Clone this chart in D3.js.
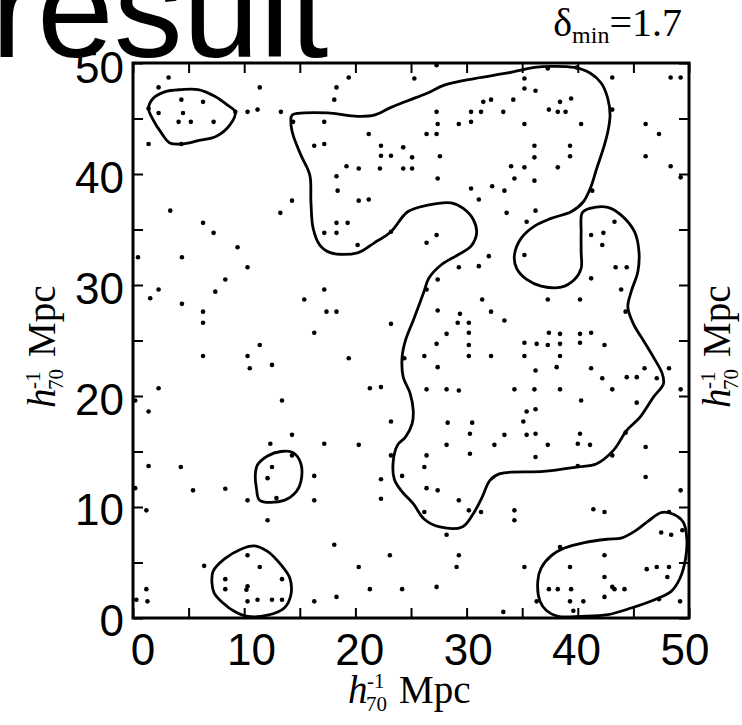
<!DOCTYPE html>
<html lang="en">
    <head>
        <meta charset="utf-8">
        <title>Cluster map - delta min 1.7</title>
        <script src="https://d3js.org/d3.v7.min.js"></script>
        <style>
            body {
                margin: 0;
                background: white;
            }
            .dot {
                fill: black;
            }
            .contour {
                fill: none;
                stroke: black;
                stroke-width: 2.8;
                stroke-linejoin: round;
            }
            .tick line {
                stroke: black;
                stroke-width: 2;
            }
            .num {
                font-family: "Liberation Sans", Arial, sans-serif;
                font-size: 44px;
                fill: black;
            }
            .serif {
                font-family: "Liberation Serif", "Times New Roman", serif;
                fill: black;
            }
        </style>
    </head>
    <body>
        <script type="text/javascript">

            // galaxy positions (h70^-1 Mpc), split by quadrant of the map
            var pointsNW = [[3.2,48.7],[2.3,47.8],[11.4,47.8],[18.3,47.8],[19.4,48.7],[4.35,46.7],[6.3,46.5],[18.1,46.7],
                [1.4,45.9],[2.3,45.5],[4.5,45.5],[9.2,45.6],[10.3,45.6],[11.2,45.8],[13.3,45.6],[4.1,44.7],[5.2,44.7],
                [7.25,44.7],[14.4,44.7],[17.2,44.7],[1.4,42.7],[4.35,42.7],[16.3,42.55],[17.2,42.7],[21.2,43.6],
                [22.3,42.55],[24.3,42.4],[22.3,41.65],[23.2,41.65],[25.1,41.5],[19.2,40.7],[20.3,40.5],[22.2,40.5],
                [24.3,40.5],[25.1,40.5],[18.3,39.8],[18.4,38.5],[20.3,37.6],[21.2,37.7],[14.3,37.6],[3.35,36.7],
                [13.25,36.5],[6.3,35.6],[18.3,35.6],[19.3,35.6],[7.25,34.7],[17.2,34.7],[18.3,34.7],[23.2,34.8],
                [9.4,33.4],[20.2,33.6],[0.45,32.5],[4.4,32.5],[10.3,31.6],[8.3,30.5],[2.3,29.6],[7.4,29.4],[17.2,29.6],
                [1.55,28.8],[15.4,28.7],[4.4,28.3],[6.3,27.6],[17.4,27.6],[18.3,27.6],[6.3,26.6],[23.2,26.5],[16.3,25.7]];

            var pointsNE = [[25.3,48.6],[27.3,49.8],[37.3,49.5],[39.9,49.6],[35.2,48.6],[43.1,48.7],[48.35,48.7],[49.25,48.7],
                [35.2,47.7],[36.2,47.5],[31.5,46.5],[32.2,46.7],[34.2,46.7],[38.4,46.5],[39.4,46.8],[27.3,45.6],[30.4,45.6],
                [31.3,45.6],[33.3,45.6],[37.4,45.8],[38.2,45.6],[38.9,45.6],[43.1,45.8],[27.4,44.5],[29.3,44.5],[30.4,44.7],
                [35.2,44.5],[40.3,44.5],[46.1,44.5],[26.4,43.6],[27.3,43.6],[47.3,43.6],[36.1,42.55],[39.3,42.55],
                [27.6,41.6],[36.1,41.5],[39.3,41.6],[46.1,41.6],[34.0,40.7],[35.2,40.6],[38.2,40.6],[48.35,40.7],
                [27.4,39.6],[34.3,39.6],[36.1,39.4],[49.25,39.7],[30.4,38.7],[32.3,38.9],[33.4,38.5],[41.3,38.5],
                [31.1,37.7],[33.6,36.5],[36.2,36.7],[35.4,35.7],[43.3,35.7],[27.3,34.5],[26.4,33.8],[41.2,34.5],
                [42.3,34.7],[42.2,33.6],[35.2,32.7],[32.0,32.6],[29.3,31.6],[31.1,31.7],[43.4,31.6],[44.4,31.6],
                [27.4,30.5],[41.2,30.6],[26.4,29.6],[43.9,29.6],[31.4,28.7],[37.3,28.7],[40.2,28.7],[27.4,27.7],
                [29.4,27.4],[29.2,26.6],[30.2,26.6],[32.2,27.6],[33.4,26.8],[28.2,25.6],[30.2,25.7],[37.4,25.7],
                [38.4,25.6],[40.2,25.6],[41.2,25.7],[44.3,27.6]];

            var pointsSW = [[6.3,23.6],[10.3,23.6],[11.4,24.6],[10.5,22.5],[12.5,22.8],[19.4,23.4],[2.3,20.7],[21.3,20.7],
                [22.3,20.8],[24.4,23.4],[1.4,18.6],[13.4,19.6],[0.2,19.6],[23.2,17.7],[14.3,16.5],[12.35,15.7],[17.2,15.7],
                [20.3,15.6],[23.2,14.65],[14.3,14.65],[1.4,13.7],[4.3,13.6],[12.5,13.6],[12.1,12.6],[16.3,12.8],
                [22.3,12.5],[24.2,12.8],[0.2,11.7],[5.4,11.5],[8.3,11.65],[10.3,10.6],[12.9,10.8],[16.3,10.6],
                [22.3,10.75],[1.2,9.7],[12.1,8.8],[18.1,6.6],[23.1,5.65],[10.3,5.65],[6.4,4.7],[11.4,4.6],[20.3,4.6],
                [8.3,3.5],[13.4,3.5],[1.2,2.6],[8.3,2.6],[10.2,2.55],[10.3,2.85],[21.3,2.6],[24.2,2.6],[0.3,1.65],
                [1.3,1.5],[10.3,1.5],[11.2,1.65],[12.5,1.65],[13.4,1.65],[16.3,1.5],[18.3,1.9]];

            var pointsSE = [[27.3,24.7],[30.2,24.6],[35.2,24.8],[36.3,24.7],[37.3,24.6],[38.4,24.7],[40.2,24.8],[42.4,24.6],
                [26.2,23.6],[30.2,23.6],[32.2,23.6],[35.2,23.6],[38.4,23.6],[27.4,22.6],[36.2,22.3],[38.1,22.6],
                [41.2,22.5],[46.0,22.5],[48.2,22.5],[42.2,21.6],[44.4,21.7],[45.3,21.7],[47.1,21.6],[26.4,20.6],
                [28.2,20.6],[29.3,20.5],[34.3,20.6],[36.1,20.6],[38.4,20.6],[43.1,20.6],[49.25,20.6],[40.3,19.6],
                [45.3,19.4],[35.4,18.6],[36.2,18.8],[35.1,17.7],[28.3,17.6],[30.5,17.6],[30.3,16.6],[33.4,16.5],
                [35.4,16.5],[36.2,16.6],[40.2,16.6],[44.3,16.7],[28.2,15.6],[32.5,15.6],[37.3,15.6],[40.0,15.7],
                [41.1,15.6],[46.1,15.4],[26.4,14.65],[30.3,14.8],[36.2,14.5],[43.1,14.65],[26.2,13.6],[40.0,13.7],
                [46.1,12.7],[26.4,11.7],[27.4,11.5],[49.25,11.5],[29.3,10.6],[26.2,9.55],[30.2,9.7],[31.3,9.55],
                [34.3,9.7],[34.3,8.8],[41.4,9.8],[42.4,9.55],[48.2,9.55],[28.2,7.5],[47.5,7.7],[48.4,7.5],[49.4,7.9],
                [38.4,6.4],[29.3,5.65],[42.4,5.65],[29.1,4.6],[35.2,4.6],[39.3,4.6],[46.2,4.4],[47.1,4.6],[48.2,4.6],
                [42.4,3.7],[48.05,3.7],[27.3,2.8],[37.4,2.6],[38.2,2.6],[39.4,2.6],[43.1,2.8],[43.3,2.6],[44.2,2.6],
                [36.3,1.5],[39.3,1.5],[40.5,1.5],[42.4,1.9],[47.3,1.7],[49.2,1.5],[33.3,0.55],[39.6,0.65]];

            // density contours (closed outlines)
            var contourTopLeft = [[1.4,45.9],[1.8,46.8],[2.85,47.4],[4.35,47.6],[5.85,47.6],[7.35,47.0],[8.5,46.2],
                [9.2,45.6],[8.7,44.4],[7.5,43.4],[5.85,43.0],[4.35,42.7],[3.3,42.8],[2.55,43.7],[1.8,44.9]];

            var contourMain = [[14.2,44.6],[14.3,45.3],[15.4,45.5],[17.5,45.5],[20.2,45.2],[21.7,45.3],[23.2,46.0],
                [24.7,46.6],[26.5,47.3],[28.0,48.0],[30.7,48.6],[33.7,49.1],[36.1,49.6],[37.6,49.7],[39.7,49.6],
                [41.1,49.1],[42.1,48.2],[42.7,46.8],[42.9,45.3],[42.7,43.8],[42.3,42.3],[41.7,40.5],[41.2,38.9],
                [40.5,37.5],[39.4,36.6],[37.6,36.0],[36.1,35.3],[34.9,34.2],[34.3,32.7],[34.5,31.5],[35.4,30.5],
                [36.7,29.9],[38.5,29.8],[39.7,30.5],[40.3,31.5],[40.3,33.0],[40.3,34.8],[40.4,36.5],[41.1,36.9],
                [42.7,37.0],[43.9,36.3],[45.1,34.8],[45.5,33.0],[45.4,31.2],[44.8,29.4],[44.5,28.0],[45.0,26.5],
                [45.9,25.0],[46.8,23.5],[47.6,22.0],[47.7,21.1],[46.8,19.9],[45.6,18.1],[44.4,16.9],[43.2,15.1],
                [41.7,13.9],[39.9,13.6],[36.9,13.2],[33.0,13.0],[32.1,12.4],[31.4,10.9],[30.6,9.4],[29.6,8.2],
                [27.6,8.2],[26.2,8.9],[25.2,10.3],[24.1,11.5],[23.5,12.5],[23.4,14.1],[23.8,15.6],[24.5,16.3],
                [25.1,17.5],[25.2,18.7],[24.9,20.3],[24.3,21.7],[24.2,23.5],[24.5,25.0],[25.2,26.8],[25.8,28.4],
                [26.2,29.5],[26.6,30.6],[27.7,31.8],[29.2,32.7],[30.4,33.5],[30.9,34.7],[30.6,35.9],[29.7,36.9],
                [28.6,37.4],[26.5,37.2],[24.7,36.6],[23.2,34.8],[21.7,33.8],[20.2,32.9],[17.8,32.9],[16.8,33.6],
                [16.2,35.1],[16.0,37.5],[15.9,39.9],[15.1,41.7],[14.4,43.5]];

            var contourMid = [[11.2,13.8],[12.1,14.6],[13.3,15.0],[14.4,14.9],[15.1,13.9],[15.1,12.3],[14.7,11.4],
                [13.6,10.6],[11.4,10.6],[11.1,11.7],[11.0,12.9]];

            var contourBottomLeft = [[7.2,4.2],[8.2,5.3],[9.7,6.2],[10.9,6.5],[12.1,6.0],[13.3,4.8],[14.1,3.6],
                [14.2,2.1],[13.6,0.9],[12.1,0.25],[10.3,0.15],[9.1,0.6],[8.1,1.35],[7.3,2.25],[7.1,3.15]];

            var contourBottomRight = [[36.4,3.3],[36.7,4.5],[37.6,5.6],[38.8,6.3],[40.6,6.8],[42.7,7.1],[43.9,7.2],
                [45.1,7.8],[46.3,8.7],[47.5,9.5],[48.7,9.3],[49.5,8.6],[49.8,7.2],[49.7,5.4],[49.2,3.6],[48.4,2.4],
                [46.9,1.65],[44.8,0.9],[42.7,0.3],[40.3,0.15],[38.2,0.15],[37.2,0.65],[36.6,1.5]];

            var tickValues = [0, 5, 10, 15, 20, 25, 30, 35, 40, 45, 50];
            var tickLabels = [0, 10, 20, 30, 40, 50];
            var titleText = "result";
            var deltaMin = "1.7";

            var outerWidth = 742;
            var outerHeight = 725;
            var margin = { left:133, top:63 };
            var innerWidth = 556;
            var innerHeight = 555;

            var svg = d3.select("body")
                        .append("svg")
                        .attr("width", outerWidth)
                        .attr("height", outerHeight);

            // slide heading, cut at the top edge
            svg.append("text")
                .attr("x", -9)
                .attr("y", 57)
                .style("font-family", "'Liberation Sans', Arial, sans-serif")
                .style("font-size", "138px")
                .text(titleText);

            var dm = svg.append("text")
                .attr("class", "serif")
                .attr("x", 682)
                .attr("y", 36)
                .attr("text-anchor", "end")
                .style("font-size", "40px");
            dm.append("tspan").text("\u03B4");
            dm.append("tspan").attr("dy", 7).style("font-size", "24px").text("min");
            dm.append("tspan").attr("dy", -7).text("=" + deltaMin);

            var g = svg.append("g")
                .attr("transform", `translate(${margin.left},${margin.top})`);

            var xScale = d3.scaleLinear().domain([0, 50]).range([0, innerWidth]);
            var yScale = d3.scaleLinear().domain([0, 50]).range([innerHeight, 0]);

            g.append("clipPath").attr("id", "plotclip")
                .append("rect")
                .attr("width", innerWidth)
                .attr("height", innerHeight);

            // inward ticks on all four sides
            function ticks(axis) {
                return axis.tickValues(tickValues).tickSize(-10).tickFormat("");
            }
            g.append("g").attr("transform", `translate(0,${innerHeight})`).call(ticks(d3.axisBottom(xScale)));
            g.append("g").call(ticks(d3.axisTop(xScale)));
            g.append("g").call(ticks(d3.axisLeft(yScale)));
            g.append("g").attr("transform", `translate(${innerWidth},0)`).call(ticks(d3.axisRight(yScale)));
            g.selectAll(".domain").remove();

            var line = d3.line()
                .x(d => xScale(d[0]))
                .y(d => yScale(d[1]))
                .curve(d3.curveCatmullRomClosed.alpha(0.5));

            var contours = [contourTopLeft, contourMain, contourMid, contourBottomLeft, contourBottomRight];
            g.append("g")
                .attr("clip-path", "url(#plotclip)")
                .selectAll("path")
                .data(contours)
                .enter()
                .append("path")
                .attr("class", "contour")
                .attr("d", line);

            var points = pointsNW.concat(pointsNE, pointsSW, pointsSE);
            g.selectAll("circle")
                .data(points)
                .enter()
                .append("circle")
                .attr("class", "dot")
                .attr("r", 2.3)
                .attr("cx", d => xScale(d[0]))
                .attr("cy", d => yScale(d[1]));

            g.append("rect")
                .attr("width", innerWidth)
                .attr("height", innerHeight)
                .attr("fill", "none")
                .attr("stroke", "black")
                .attr("stroke-width", 3);

            // tick numbers sit slightly off the tick marks in the original
            var xLabelScale = d3.scaleLinear().domain([0, 50]).range([143, 685]);
            var yLabelScale = d3.scaleLinear().domain([0, 50]).range([620, 67]);

            svg.selectAll(".xnum")
                .data(tickLabels)
                .enter()
                .append("text")
                .attr("class", "num")
                .attr("x", d => xLabelScale(d))
                .attr("y", 665)
                .attr("text-anchor", "middle")
                .text(d => d);

            svg.selectAll(".ynum")
                .data(tickLabels)
                .enter()
                .append("text")
                .attr("class", "num")
                .attr("x", 124)
                .attr("y", d => yLabelScale(d))
                .attr("dy", "0.36em")
                .attr("text-anchor", "end")
                .text(d => d);

            // h_70^-1 Mpc
            function axisTitle(sel) {
                var t = sel.append("g").attr("transform", "translate(-62,0)");
                t.append("text").attr("class", "serif").style("font-size", "39px")
                    .style("font-style", "italic").text("h");
                t.append("text").attr("class", "serif").style("font-size", "21px")
                    .attr("x", 19).attr("y", -15).text("-1");
                t.append("text").attr("class", "serif").style("font-size", "21px")
                    .attr("x", 18).attr("y", 8).text("70");
                t.append("text").attr("class", "serif").style("font-size", "39px")
                    .attr("x", 51).text("Mpc");
            }

            svg.append("g").attr("transform", "translate(410,703)").call(axisTitle);
            svg.append("g").attr("transform", "translate(55,346) rotate(-90)").call(axisTitle);
            svg.append("g").attr("transform", "translate(730,346) rotate(-90)").call(axisTitle);

        </script>
    </body>
</html>
